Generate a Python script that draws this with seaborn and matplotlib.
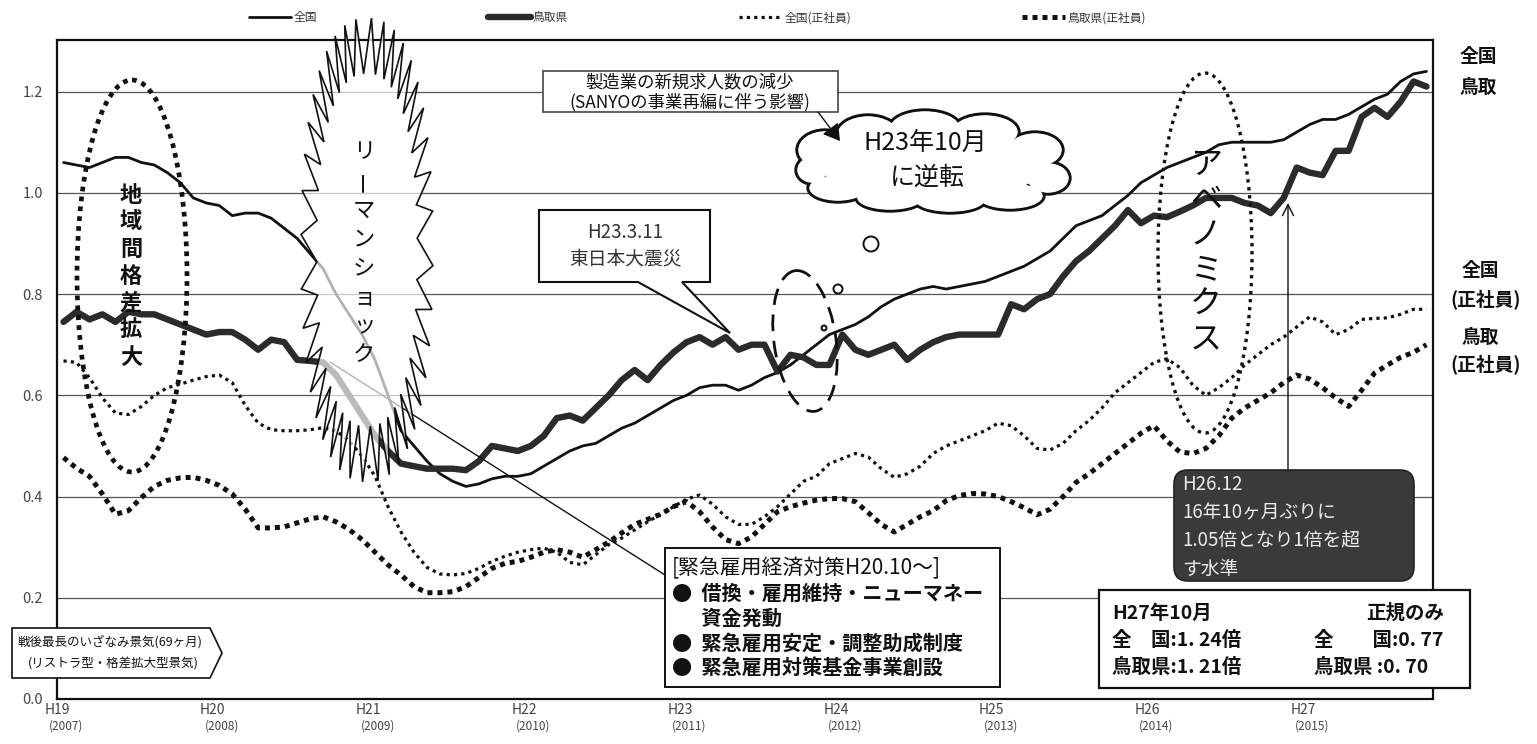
import numpy as np
import matplotlib
matplotlib.use("Agg")
import matplotlib.pyplot as plt
import seaborn as sns
from matplotlib.patches import Ellipse, Polygon, FancyBboxPatch, Circle, FancyArrowPatch
from matplotlib.transforms import Affine2D, blended_transform_factory

# ---- data: monthly effective job-opening ratios, Jan 2007 (H19) .. Oct 2015 (H27) ----
months = np.arange(106)

national = [
    1.06, 1.055, 1.05, 1.06, 1.07, 1.07, 1.06, 1.055, 1.04, 1.02, 0.99, 0.98,
    0.975, 0.955, 0.96, 0.96, 0.95, 0.93, 0.91, 0.88, 0.85, 0.80, 0.76, 0.72,
    0.67, 0.60, 0.53, 0.50, 0.47, 0.445, 0.43, 0.42, 0.425, 0.435, 0.44, 0.44,
    0.445, 0.46, 0.475, 0.49, 0.50, 0.505, 0.52, 0.535, 0.545, 0.56, 0.575, 0.59,
    0.60, 0.615, 0.62, 0.62, 0.61, 0.62, 0.635, 0.645, 0.66, 0.68, 0.70, 0.72,
    0.73, 0.74, 0.755, 0.775, 0.79, 0.80, 0.81, 0.815, 0.81, 0.815, 0.82, 0.825,
    0.835, 0.845, 0.855, 0.87, 0.885, 0.91, 0.935, 0.945, 0.955, 0.975, 0.995, 1.02,
    1.035, 1.05, 1.06, 1.07, 1.08, 1.095, 1.10, 1.10, 1.10, 1.10, 1.105, 1.12,
    1.135, 1.145, 1.145, 1.155, 1.17, 1.185, 1.195, 1.22, 1.235, 1.24,
]

tottori = [
    0.745, 0.765, 0.75, 0.76, 0.745, 0.765, 0.76, 0.76, 0.75, 0.74, 0.73, 0.72,
    0.725, 0.725, 0.71, 0.69, 0.71, 0.705, 0.67, 0.668, 0.665, 0.64, 0.60, 0.56,
    0.52, 0.49, 0.465, 0.46, 0.455, 0.455, 0.455, 0.452, 0.47, 0.50, 0.495, 0.49,
    0.50, 0.52, 0.555, 0.56, 0.55, 0.575, 0.60, 0.63, 0.65, 0.63, 0.66, 0.685,
    0.705, 0.715, 0.70, 0.715, 0.69, 0.70, 0.70, 0.647, 0.68, 0.675, 0.66, 0.66,
    0.72, 0.69, 0.68, 0.69, 0.70, 0.67, 0.69, 0.705, 0.715, 0.72, 0.72, 0.72,
    0.72, 0.78, 0.77, 0.79, 0.80, 0.835, 0.865, 0.885, 0.91, 0.935, 0.966, 0.94,
    0.955, 0.952, 0.963, 0.975, 0.99, 0.99, 0.99, 0.98, 0.975, 0.96, 0.99, 1.05,
    1.04, 1.035, 1.083, 1.083, 1.15, 1.168, 1.15, 1.18, 1.22, 1.21,
]

national_regular = [
    0.668, 0.665, 0.635, 0.595, 0.565, 0.562, 0.578, 0.60, 0.615, 0.622, 0.63, 0.637,
    0.64, 0.625, 0.58, 0.545, 0.532, 0.53, 0.53, 0.532, 0.536, 0.53, 0.51, 0.48,
    0.44, 0.38, 0.33, 0.29, 0.26, 0.247, 0.245, 0.248, 0.258, 0.272, 0.282, 0.29,
    0.295, 0.298, 0.29, 0.27, 0.265, 0.285, 0.305, 0.318, 0.334, 0.35, 0.365, 0.38,
    0.395, 0.403, 0.385, 0.36, 0.345, 0.345, 0.36, 0.38, 0.405, 0.43, 0.44, 0.465,
    0.475, 0.485, 0.478, 0.455, 0.438, 0.445, 0.46, 0.485, 0.50, 0.51, 0.52, 0.53,
    0.545, 0.54, 0.52, 0.495, 0.492, 0.505, 0.53, 0.55, 0.575, 0.605, 0.625, 0.645,
    0.665, 0.672, 0.655, 0.62, 0.60, 0.615, 0.635, 0.66, 0.68, 0.70, 0.715, 0.735,
    0.755, 0.745, 0.72, 0.73, 0.75, 0.752, 0.753, 0.76, 0.77, 0.77,
]

tottori_regular = [
    0.477, 0.456, 0.44, 0.405, 0.365, 0.372, 0.398, 0.42, 0.432, 0.437, 0.438, 0.432,
    0.422, 0.405, 0.375, 0.338, 0.338, 0.34, 0.348, 0.356, 0.36, 0.35, 0.335, 0.315,
    0.29, 0.265, 0.245, 0.222, 0.21, 0.21, 0.212, 0.222, 0.24, 0.258, 0.268, 0.272,
    0.28, 0.29, 0.295, 0.29, 0.28, 0.295, 0.31, 0.328, 0.345, 0.355, 0.365, 0.38,
    0.39, 0.37, 0.34, 0.315, 0.307, 0.32, 0.345, 0.37, 0.38, 0.387, 0.393, 0.396,
    0.396, 0.39, 0.368, 0.345, 0.33, 0.345, 0.36, 0.372, 0.392, 0.402, 0.406, 0.405,
    0.40, 0.39, 0.378, 0.364, 0.375, 0.40, 0.428, 0.445, 0.465, 0.485, 0.505, 0.525,
    0.54, 0.51, 0.488, 0.485, 0.495, 0.52, 0.555, 0.575, 0.59, 0.605, 0.625, 0.64,
    0.632, 0.615, 0.595, 0.578, 0.61, 0.644, 0.66, 0.675, 0.685, 0.70,
]

series_labels = ["全国", "鳥取県", "全国(正社員)", "鳥取県(正社員)"]
era_labels = ["H19", "H20", "H21", "H22", "H23", "H24", "H25", "H26", "H27"]
year_labels = ["(2007)", "(2008)", "(2009)", "(2010)", "(2011)", "(2012)", "(2013)",
               "(2014)", "(2015)"]
y_ticks = [0.0, 0.2, 0.4, 0.6, 0.8, 1.0, 1.2]

# ---- figure ----
sns.set_theme(style="white")
plt.rcParams['font.family'] = ['Noto Sans CJK JP', 'DejaVu Sans']

W, H = 1537, 744
fig = plt.figure(figsize=(W / 100, H / 100), dpi=100)
ax = fig.add_axes([57 / W, 1 - 699 / H, (1433 - 57) / W, (699 - 40) / H])
# pixel space of the canvas, origin top-left, for callouts and decorations
P = Affine2D().scale(1 / W, -1 / H).translate(0, 1) + fig.transFigure

sns.lineplot(x=months, y=national, ax=ax, color="#111111", lw=2.0, label=series_labels[0])
sns.lineplot(x=months, y=tottori, ax=ax, color="#2b2b2b", lw=4.6, label=series_labels[1])
sns.lineplot(x=months, y=national_regular, ax=ax, color="#111111", lw=2.3,
             linestyle=(0, (1, 1.3)), label=series_labels[2])
sns.lineplot(x=months, y=tottori_regular, ax=ax, color="#111111", lw=3.6,
             linestyle=(0, (1, 1.0)), label=series_labels[3])
for ln in ax.get_lines()[2:]:
    ln.set_dash_capstyle("butt")

ax.set_xlim(-0.5, 105.5)
ax.set_ylim(0, 1.302)
year_ticks = [-0.5 + 12 * k for k in range(len(era_labels))]
ax.set_xticks(year_ticks)
ax.set_xticklabels(era_labels, fontsize=10, color="#444444")
bt = blended_transform_factory(ax.transData, ax.transAxes)
for xt, yl in zip(year_ticks, year_labels):
    ax.text(xt + 0.7, -0.031, yl, transform=bt, ha="center", va="top", fontsize=8.5,
            color="#444444")
ax.set_yticks(y_ticks)
ax.set_yticklabels([f"{v:.1f}" for v in y_ticks], fontsize=10.5, color="#444444")
ax.tick_params(axis="x", direction="in", length=4, width=1, color="#222222", pad=3)
ax.tick_params(axis="y", length=0, pad=10)
for v in y_ticks[1:]:
    ax.axhline(v, color="#555555", lw=0.9, zorder=1)
for sp in ax.spines.values():
    sp.set_color("#111111")
    sp.set_linewidth(1.6)
ax.set_xlabel("")
ax.set_ylabel("")

handles = ax.get_lines()[:4]
ax.legend(handles, series_labels, loc="center", bbox_to_anchor=(697 / W, 1 - 18 / H),
          bbox_transform=fig.transFigure, ncol=4, frameon=False, handlelength=3.6,
          columnspacing=14.5, fontsize=8.5, labelcolor="#333333", handletextpad=0.2)


def add(patch, z=6):
    patch.set_transform(P)
    patch.set_clip_on(False)
    patch.set_zorder(z)
    ax.add_patch(patch)
    return patch


def txt(x, y, s, z=8, **kw):
    kw.setdefault("ha", "center")
    kw.setdefault("va", "center")
    kw.setdefault("color", "#111111")
    return ax.text(x, y, s, transform=P, zorder=z, clip_on=False, **kw)


def vertical(x, y0, step, s, size, rotate=(), **kw):
    for i, ch in enumerate(s):
        txt(x, y0 + i * step, ch, fontsize=size, rotation=90 if ch in rotate else 0, **kw)


# regional gap ellipse
add(Ellipse((132, 276), 110, 392, fill=False, ec="#111111", lw=3.4,
            linestyle=(0, (1, 1.1))), z=5)
vertical(131, 195, 27, "地域間格差拡大", 16, fontweight="bold")

# leader from the emergency-measures box, passing under the burst
ax.add_line(plt.Line2D([665, 330], [575, 362], transform=P, color="#111111", lw=1.0,
                       zorder=4, clip_on=False))

# Lehman shock burst (rounded superellipse outline with alternating radii)
n = 40
t = np.linspace(0, 2 * np.pi, 2 * n, endpoint=False) + np.pi / (2 * n)
r = np.where(np.arange(2 * n) % 2 == 0, 1.0, 0.76)
pw = 2 / 2.4
bx = 367 + 66 * r * np.sign(np.cos(t)) * np.abs(np.cos(t)) ** pw
by = 250 + 232 * r * np.sign(np.sin(t)) * np.abs(np.sin(t)) ** pw
add(Polygon(np.column_stack([bx, by]), closed=True, fc=(1, 1, 1, 0.68), ec="#111111",
            lw=1.2), z=5)
vertical(364, 152, 29, "リーマンショック", 16, rotate=("ー",))

# manufacturing note box + arrow to the cloud
add(Polygon([(543, 71), (838, 71), (838, 112), (543, 112)], closed=True, fc="white",
            ec="#444444", lw=1.2), z=6)
txt(690, 82, "製造業の新規求人数の減少", fontsize=12.5)
txt(690, 102, "(SANYOの事業再編に伴う影響)", fontsize=12.5)
add(FancyArrowPatch((818, 112), (840, 141), arrowstyle="-|>,head_length=10,head_width=6",
                    color="#111111", lw=1.0, shrinkA=0, shrinkB=0), z=7)

# reversal cloud
bumps = [(825, 150, 28, 20), (868, 135, 32, 20), (925, 128, 36, 18), (985, 132, 34, 18),
         (1035, 150, 28, 18), (1048, 178, 22, 16), (1010, 196, 34, 14), (950, 200, 36, 13),
         (890, 198, 34, 13), (838, 188, 30, 14), (812, 170, 16, 14)]
for cx, cy, rx, ry in bumps:
    add(Ellipse((cx, cy), 2 * rx, 2 * ry, fc="white", ec="#111111", lw=2.4), z=6)
for cx, cy, rx, ry in bumps:
    add(Ellipse((cx, cy), 2 * rx - 2.6, 2 * ry - 2.6, fc="white", ec="none"), z=6.1)
add(Ellipse((933, 165), 226, 70, fc="white", ec="none"), z=6.2)
txt(925, 143, "H23年10月", fontsize=18, z=8)
txt(927, 178, "に逆転", fontsize=18, z=8)
for cx, cy, rr in [(871, 244, 7.5), (838, 289, 4.5), (824, 328, 2.5)]:
    add(Circle((cx, cy), rr, fc="white", ec="#111111", lw=1.4), z=6)

# dashed ring at the crossover
add(Ellipse((805, 341), 62, 142, angle=-8, fill=False, ec="#111111", lw=2.0,
            linestyle=(0, (6, 3.5))), z=5)

# earthquake callout
add(Polygon([(539, 210), (710, 210), (710, 282), (682, 282), (730, 333), (638, 282),
             (539, 282)], closed=True, fc="white", ec="#111111", lw=1.5), z=6)
txt(625, 232, "H23.3.11", fontsize=13.5, color="#333333")
txt(625, 259, "東日本大震災", fontsize=13.5, color="#333333")

# Abenomics ellipse
add(Ellipse((1205, 253), 94, 360, fill=False, ec="#111111", lw=2.4,
            linestyle=(0, (1, 1.4))), z=5)
vertical(1206, 165, 35, "アベノミクス", 23)

# arrow to the Dec 2014 point
add(FancyArrowPatch((1288, 472), (1288, 203), arrowstyle="->,head_length=8,head_width=4",
                    color="#111111", lw=1.0, shrinkA=0, shrinkB=0), z=6)

# dark note box
add(FancyBboxPatch((1174, 470), 240, 111, boxstyle="round,pad=0,rounding_size=14",
                   fc="#3a3a3a", ec="#222222", lw=1.2), z=6)
for i, s in enumerate(["H26.12", "16年10ヶ月ぶりに", "1.05倍となり1倍を超", "す水準"]):
    txt(1182, 485 + i * 28, s, fontsize=13.5, ha="left", color="#ececec")

# latest values box
add(Polygon([(1099, 590), (1470, 590), (1470, 688), (1099, 688)], closed=True, fc="white",
            ec="#111111", lw=1.6), z=6)
bold = dict(fontsize=14, fontweight="bold", ha="left")
txt(1112, 613, "H27年10月", **bold)
txt(1366, 613, "正規のみ", **bold)
txt(1112, 640, "全　国:1. 24倍", **bold)
txt(1112, 667, "鳥取県:1. 21倍", **bold)
txt(1314, 640, "全　　国:0. 77", **bold)
txt(1314, 667, "鳥取県 :0. 70", **bold)

# emergency measures box
add(Polygon([(665, 548), (1000, 548), (1000, 687), (665, 687)], closed=True, fc="white",
            ec="#111111", lw=1.4), z=6)
txt(672, 568, "[緊急雇用経済対策H20.10～]", fontsize=15, ha="left")
txt(672, 593, "●  借換・雇用維持・ニューマネー", fontsize=14.5, ha="left", fontweight="bold")
txt(672, 618, "　  資金発動", fontsize=14.5, ha="left", fontweight="bold")
txt(672, 643, "●  緊急雇用安定・調整助成制度", fontsize=14.5, ha="left", fontweight="bold")
txt(672, 668, "●  緊急雇用対策基金事業創設", fontsize=14.5, ha="left", fontweight="bold")

# Izanami boom pentagon
add(Polygon([(12, 628), (210, 628), (222, 653), (210, 678), (12, 678)], closed=True,
            fc="white", ec="#111111", lw=1.2), z=6)
txt(110, 642, "戦後最長のいざなみ景気(69ヶ月)", fontsize=9)
txt(113, 664, "(リストラ型・格差拡大型景気)", fontsize=9)

# end-of-line labels on the right
right = dict(fontsize=13.5, fontweight="bold")
txt(1478, 57, "全国", **right)
txt(1478, 87, "鳥取", **right)
txt(1480, 271, "全国", **right)
txt(1486, 300, "(正社員)", **right)
txt(1480, 337, "鳥取", **right)
txt(1486, 365, "(正社員)", **right)

fig.savefig("out.png", dpi=100)
